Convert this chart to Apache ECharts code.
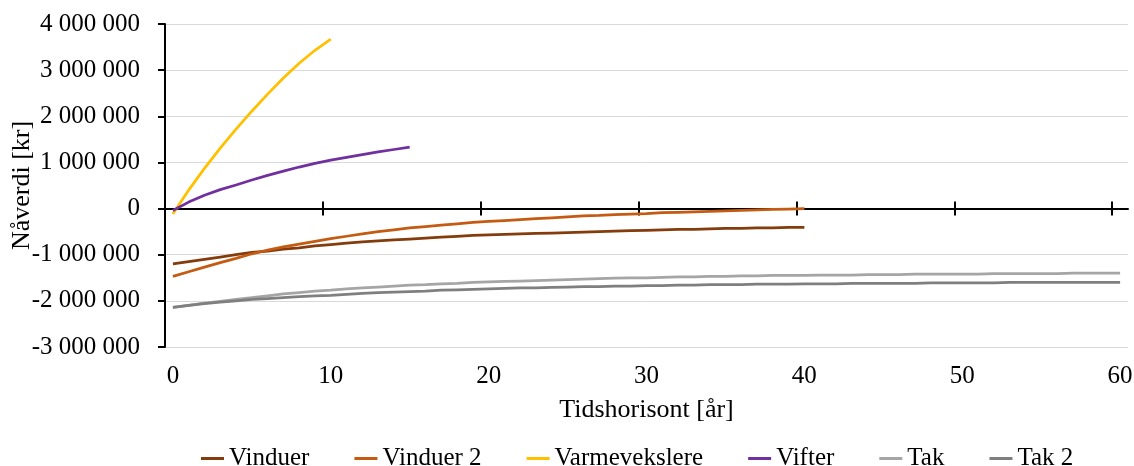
<!DOCTYPE html>
<html>
<head>
<meta charset="utf-8">
<script src="https://cdn.jsdelivr.net/npm/echarts@6/dist/echarts.min.js"></script>
<style>
  html, body { margin: 0; padding: 0; background: #fff; }
  #chart { width: 1134px; height: 466px; }
</style>
</head>
<body>
<div id="chart"></div>
<script>
// Tidshorisont i år (0–60)
const years = Array.from({ length: 61 }, (_, i) => String(i));

// Nåverdi [kr] per tiltak
const vinduer = [
  -1200000, -1150000, -1100000, -1050000, -1000000, -950000, -920000, -880000, -850000, -810000,
  -780000, -750000, -720000, -700000, -680000, -660000, -640000, -620000, -600000, -580000,
  -570000, -560000, -550000, -540000, -530000, -520000, -510000, -500000, -490000, -480000,
  -470000, -460000, -450000, -450000, -440000, -430000, -430000, -420000, -420000, -410000,
  -410000
];
const vinduer2 = [
  -1470000, -1370000, -1270000, -1170000, -1080000, -980000, -900000, -830000, -770000, -710000,
  -650000, -600000, -550000, -500000, -460000, -420000, -390000, -360000, -330000, -300000,
  -280000, -260000, -240000, -220000, -200000, -180000, -160000, -150000, -130000, -120000,
  -110000, -90000, -80000, -70000, -60000, -50000, -40000, -30000, -20000, -10000,
  0
];
const varmevekslere = [
  -120000, 400000, 870000, 1310000, 1720000, 2110000, 2480000, 2830000, 3150000, 3430000,
  3670000
];
const vifter = [
  -40000, 140000, 290000, 410000, 510000, 620000, 720000, 810000, 900000, 980000,
  1050000, 1110000, 1170000, 1230000, 1280000, 1330000
];
const tak = [
  -2140000, -2100000, -2050000, -2010000, -1970000, -1930000, -1890000, -1850000, -1820000, -1790000,
  -1770000, -1740000, -1720000, -1700000, -1680000, -1660000, -1650000, -1630000, -1620000, -1600000,
  -1590000, -1580000, -1570000, -1560000, -1550000, -1540000, -1530000, -1520000, -1510000, -1500000,
  -1500000, -1490000, -1480000, -1480000, -1470000, -1470000, -1460000, -1460000, -1450000, -1450000,
  -1450000, -1440000, -1440000, -1440000, -1430000, -1430000, -1430000, -1420000, -1420000, -1420000,
  -1420000, -1420000, -1410000, -1410000, -1410000, -1410000, -1410000, -1400000, -1400000, -1400000,
  -1400000
];
const tak2 = [
  -2140000, -2100000, -2060000, -2030000, -2000000, -1970000, -1950000, -1930000, -1910000, -1890000,
  -1880000, -1860000, -1840000, -1820000, -1810000, -1800000, -1790000, -1770000, -1760000, -1750000,
  -1740000, -1730000, -1720000, -1720000, -1710000, -1700000, -1690000, -1690000, -1680000, -1680000,
  -1670000, -1670000, -1660000, -1660000, -1650000, -1650000, -1650000, -1640000, -1640000, -1640000,
  -1630000, -1630000, -1630000, -1620000, -1620000, -1620000, -1620000, -1620000, -1610000, -1610000,
  -1610000, -1610000, -1610000, -1600000, -1600000, -1600000, -1600000, -1600000, -1600000, -1600000,
  -1600000
];

const seriesNames = ['Vinduer', 'Vinduer 2', 'Varmevekslere', 'Vifter', 'Tak', 'Tak 2'];
const seriesData = [vinduer, vinduer2, varmevekslere, vifter, tak, tak2];
const seriesColors = ['#843C0C', '#C55A11', '#FFC000', '#7030A0', '#A5A5A5', '#7F7F7F'];

const FONT = '"Liberation Serif", "Times New Roman", serif';

// thousands separated by spaces: 1 000 000
function fmt(v) {
  const s = String(Math.abs(v)).replace(/\B(?=(\d{3})+(?!\d))/g, ' ');
  return (v < 0 ? '-' : '') + s;
}

// crossing tick marks sit on the boundary before every tenth year
const tickPositions = years.map(Number).filter(y => y > 0 && y % 10 === 0).map(y => y - 0.5);
const bandMin = -0.5;
const bandMax = years.length - 0.5;

function zeroTickAxis(inside) {
  return {
    type: 'value',
    min: bandMin,
    max: bandMax,
    position: 'bottom',
    axisLine: { show: !inside, onZero: true, onZeroAxisIndex: 0, lineStyle: { color: '#000', width: 2 } },
    axisTick: { show: true, inside: inside, length: 7, customValues: tickPositions, lineStyle: { color: '#000', width: 2 } },
    axisLabel: { show: false },
    splitLine: { show: false }
  };
}

const chart = echarts.init(document.getElementById('chart'), null, { renderer: 'canvas' });

chart.setOption({
  animation: false,
  backgroundColor: '#ffffff',
  textStyle: { fontFamily: FONT },
  grid: { left: 165, right: 6, top: 24, bottom: 119, containLabel: false, outerBoundsMode: 'none' },
  legend: {
    data: seriesNames,
    left: 196,
    top: 441,
    icon: 'rect',
    itemWidth: 23,
    itemHeight: 3,
    itemGap: 45,
    textStyle: { fontFamily: FONT, fontSize: 25, color: '#000' }
  },
  xAxis: [
    {
      // years, labels and title along the bottom edge
      type: 'category',
      data: years,
      boundaryGap: true,
      position: 'bottom',
      axisLine: { show: false, onZero: false },
      axisTick: { show: false },
      axisLabel: { show: true, interval: 9, margin: 17, fontFamily: FONT, fontSize: 25, color: '#000' },
      splitLine: { show: false },
      name: 'Tidshorisont [år]',
      nameLocation: 'middle',
      nameGap: 50,
      nameMoveOverlap: false,
      nameTextStyle: { fontFamily: FONT, fontSize: 26, color: '#000' }
    },
    zeroTickAxis(false),
    zeroTickAxis(true)
  ],
  yAxis: {
    type: 'value',
    min: -3000000,
    max: 4000000,
    interval: 1000000,
    axisLine: { show: true, onZero: false, lineStyle: { color: '#000', width: 2 } },
    axisTick: { show: true, inside: false, length: 7, lineStyle: { color: '#000', width: 2 } },
    axisLabel: { margin: 25, fontFamily: FONT, fontSize: 25, color: '#000', formatter: fmt },
    splitLine: { show: true, lineStyle: { color: '#D9D9D9', width: 1 } },
    name: 'Nåverdi [kr]',
    nameLocation: 'middle',
    nameGap: 130,
    nameMoveOverlap: false,
    nameTextStyle: { fontFamily: FONT, fontSize: 26, color: '#000' }
  },
  series: seriesNames.map((name, i) => ({
    name: name,
    type: 'line',
    xAxisIndex: 0,
    data: seriesData[i],
    showSymbol: false,
    symbol: 'none',
    smooth: false,
    color: seriesColors[i],
    lineStyle: { color: seriesColors[i], width: 2.75 },
    z: 3
  }))
});
</script>
</body>
</html>
